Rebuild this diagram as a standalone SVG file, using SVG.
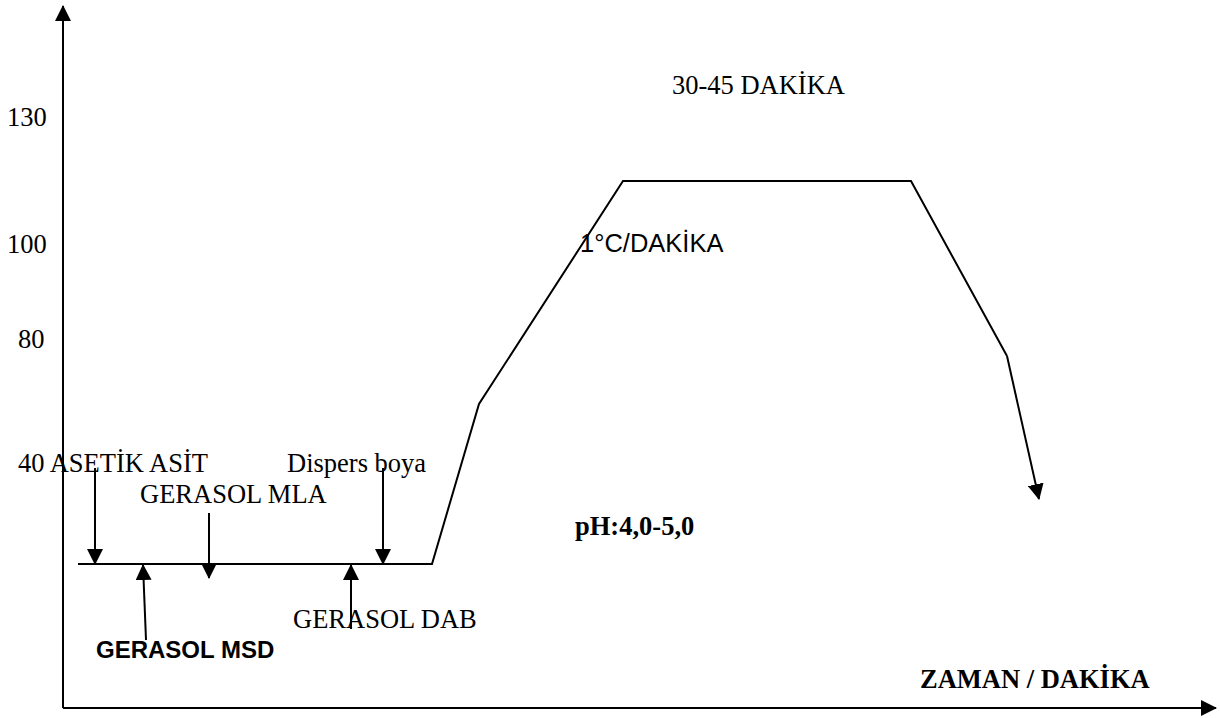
<svg xmlns="http://www.w3.org/2000/svg" width="1220" height="718" viewBox="0 0 1220 718">
<style>
.t{font-family:"Liberation Serif","Times New Roman",serif;font-size:26.5px;fill:#000}
.a{font-family:"Liberation Sans",Arial,sans-serif;font-size:25.5px;fill:#000}
.ab{font-family:"Liberation Sans",Arial,sans-serif;font-size:24px;font-weight:bold;fill:#000}
.tb{font-family:"Liberation Serif","Times New Roman",serif;font-weight:bold;font-size:26.5px;fill:#000}
.ln{fill:none;stroke:#000;stroke-width:2}
</style>
<defs>
<marker id="ah" markerUnits="userSpaceOnUse" markerWidth="16" markerHeight="16" viewBox="0 0 16 16" refX="15" refY="8" orient="auto">
<path d="M0,0 L16,8 L0,16 Z" fill="#000"/>
</marker>
</defs>
<rect width="1220" height="718" fill="#fff"/>
<g id="axes">
<line class="ln" x1="63" y1="708" x2="63" y2="6" stroke-width="2.5" marker-end="url(#ah)"/>
<line class="ln" x1="63" y1="708" x2="1216" y2="708" stroke-width="2.5" marker-end="url(#ah)"/>
</g>
<g id="connectors">
<polyline class="ln" points="78,564 432,564 479,404 623,181 911,181 1007,356"/>
<line class="ln" x1="1007" y1="356" x2="1039" y2="499" marker-end="url(#ah)"/>
<line class="ln" x1="95" y1="468" x2="95" y2="564" stroke-width="2.5" marker-end="url(#ah)"/>
<line class="ln" x1="209" y1="513" x2="209" y2="578" stroke-width="2.5" marker-end="url(#ah)"/>
<line class="ln" x1="383" y1="468" x2="383" y2="564" stroke-width="2.5" marker-end="url(#ah)"/>
<line class="ln" x1="146" y1="640" x2="143" y2="565" stroke-width="2.5" marker-end="url(#ah)"/>
<line class="ln" x1="351" y1="629" x2="351" y2="565" stroke-width="2.5" marker-end="url(#ah)"/>
</g>
<g id="labels">
<text class="t" x="7" y="126">130</text>
<text class="t" x="7" y="253">100</text>
<text class="t" x="18" y="348">80</text>
<text class="t" x="18" y="472">40 ASETİK ASİT</text>
<text class="t" x="140" y="503">GERASOL MLA</text>
<text class="t" x="287" y="472">Dispers boya</text>
<text class="t" x="293" y="628">GERASOL DAB</text>
<text class="ab" x="96" y="658">GERASOL MSD</text>
<text class="t" x="672" y="94">30-45 DAKİKA</text>
<text class="a" x="580" y="252">1°C/DAKİKA</text>
<text class="tb" x="575" y="535">pH:4,0-5,0</text>
<text class="tb" x="920" y="688">ZAMAN / DAKİKA</text>
</g>
</svg>
